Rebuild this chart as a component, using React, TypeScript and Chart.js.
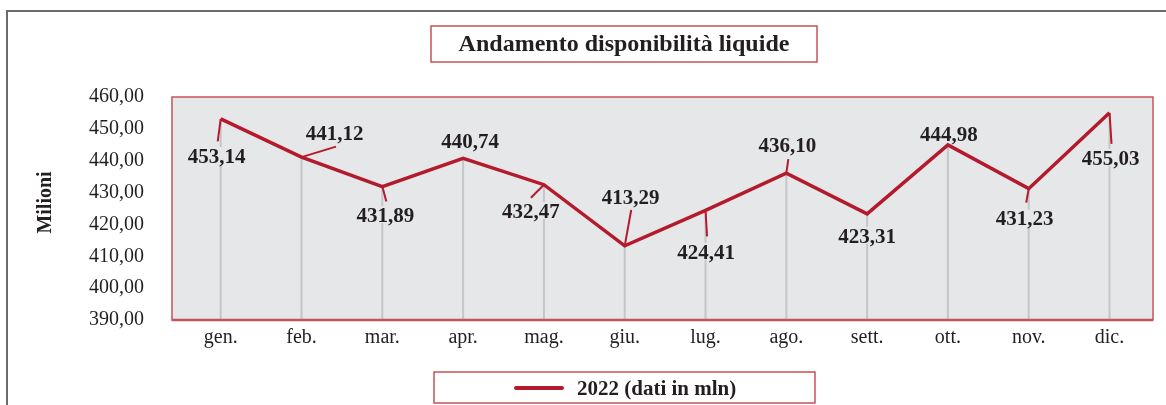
import React, { useEffect, useRef } from "react";
import { Chart, registerables } from "chart.js";

Chart.register(...registerables);

const months = ["gen.", "feb.", "mar.", "apr.", "mag.", "giu.", "lug.", "ago.", "sett.", "ott.", "nov.", "dic."];
const values2022 = [453.14, 441.12, 431.89, 440.74, 432.47, 413.29, 424.41, 436.1, 423.31, 444.98, 431.23, 455.03];
const yTickMin = 390;
const yTickMax = 460;
const yTickStep = 10;
const chartTitle = "Andamento disponibilità liquide";
const seriesLabel = "2022 (dati in mln)";
const yAxisTitle = "Milioni";

// label placement relative to point: [dxLabel, dyLabelCenter, dxLeaderEnd, dyLeaderEnd] (null leader = none)
const labelOffsets: [number, number, number | null, number | null][] = [
  [-4, 36.5, -3, 22.5],
  [33, -24, 34.5, -10.5],
  [3, 28, 4, 15],
  [7, -18, null, null],
  [-13, 26, -13, 13],
  [6, -49, 6.5, -36],
  [0.5, 41, 1.5, 26],
  [1, -28, 2, -14],
  [0, 21.5, null, null],
  [1, -11, null, null],
  [-4, 29.5, -2.5, 14],
  [1, 44.5, 2, 31],
];

const RED = "#b31b2c";
const BORDER_RED = "#c8525b";
const TEXT = "#231f20";
const PLOT_BG = "#e6e7e9";
const FONT = "'Liberation Serif', 'Times New Roman', serif";

const fmt = (v: number) => v.toFixed(2).replace(".", ",");

const decorPlugin = {
  id: "decor",
  beforeDatasetsDraw(chart: any) {
    const ctx = chart.ctx as CanvasRenderingContext2D;
    const ca = chart.chartArea;
    const xs = chart.scales.x;
    const ys = chart.scales.y;
    ctx.save();
    // outer border
    ctx.strokeStyle = "#6b6b6b";
    ctx.lineWidth = 2;
    ctx.strokeRect(7, 11, 1200, 500);
    // plot background
    ctx.fillStyle = PLOT_BG;
    ctx.fillRect(ca.left, ca.top, ca.right - ca.left, ca.bottom - ca.top);
    // drop lines
    ctx.strokeStyle = "#c6c6c8";
    ctx.lineWidth = 2;
    values2022.forEach((v, i) => {
      const x = xs.getPixelForValue(i);
      const y = ys.getPixelForValue(v);
      ctx.beginPath();
      ctx.moveTo(x, y);
      ctx.lineTo(x, ca.bottom);
      ctx.stroke();
    });
    // plot border
    ctx.strokeStyle = BORDER_RED;
    ctx.lineWidth = 1.5;
    ctx.strokeRect(ca.left, ca.top, ca.right - ca.left, ca.bottom - ca.top);
    ctx.lineWidth = 2.5;
    ctx.beginPath();
    ctx.moveTo(ca.left, ca.bottom);
    ctx.lineTo(ca.right, ca.bottom);
    ctx.stroke();
    // title box
    ctx.lineWidth = 1.5;
    ctx.strokeRect(431, 26, 386, 36);
    ctx.fillStyle = TEXT;
    ctx.font = `bold 24px ${FONT}`;
    ctx.textAlign = "center";
    ctx.textBaseline = "alphabetic";
    ctx.fillText(chartTitle, 624, 50.5);
    // legend box
    ctx.strokeStyle = BORDER_RED;
    ctx.strokeRect(434, 372, 381, 31);
    ctx.strokeStyle = RED;
    ctx.lineWidth = 4;
    ctx.lineCap = "round";
    ctx.beginPath();
    ctx.moveTo(516, 388);
    ctx.lineTo(562, 388);
    ctx.stroke();
    ctx.font = `bold 21px ${FONT}`;
    ctx.textAlign = "left";
    ctx.fillText(seriesLabel, 577, 395);
    // y axis title
    ctx.translate(51, 202.5);
    ctx.rotate(-Math.PI / 2);
    ctx.textAlign = "center";
    ctx.font = `bold 20px ${FONT}`;
    ctx.fillText(yAxisTitle, 0, 0);
    ctx.restore();
  },
  afterDatasetsDraw(chart: any) {
    const ctx = chart.ctx as CanvasRenderingContext2D;
    const xs = chart.scales.x;
    const ys = chart.scales.y;
    ctx.save();
    ctx.font = `bold 21px ${FONT}`;
    values2022.forEach((v, i) => {
      const px = xs.getPixelForValue(i);
      const py = ys.getPixelForValue(v);
      const [dx, dy, lx, ly] = labelOffsets[i];
      const cx = px + dx;
      const cy = py + dy;
      const text = fmt(v);
      const w = ctx.measureText(text).width;
      ctx.fillStyle = PLOT_BG;
      ctx.fillRect(cx - w / 2 - 1, cy - 8.5, w + 2, 17);
      if (lx !== null && ly !== null) {
        ctx.strokeStyle = RED;
        ctx.lineWidth = 2;
        ctx.beginPath();
        ctx.moveTo(px, py);
        ctx.lineTo(px + lx, py + ly);
        ctx.stroke();
      }
      ctx.fillStyle = TEXT;
      ctx.textAlign = "center";
      ctx.textBaseline = "alphabetic";
      ctx.fillText(text, cx, cy + 7.2);
    });
    ctx.restore();
  },
};

export default function App() {
  const ref = useRef<HTMLCanvasElement | null>(null);
  useEffect(() => {
    if (!ref.current) return;
    const chart = new Chart(ref.current, {
      type: "line",
      data: {
        datasets: [
          {
            label: seriesLabel,
            data: values2022.map((v, i) => ({ x: i, y: v })),
            borderColor: RED,
            backgroundColor: RED,
            borderWidth: 3.5,
            pointRadius: 0,
            pointHoverRadius: 0,
            tension: 0,
            borderJoinStyle: "miter",
            fill: false,
          },
        ],
      },
      options: {
        animation: false,
        responsive: true,
        maintainAspectRatio: false,
        events: [],
        layout: { padding: { top: 97, right: 13, left: 0, bottom: 0 } },
        plugins: {
          legend: { display: false },
          title: { display: false },
          tooltip: { enabled: false },
        },
        scales: {
          x: {
            type: "linear",
            min: -0.603,
            max: 11.538,
            grid: { display: false, drawTicks: false },
            border: { display: false },
            ticks: {
              autoSkip: false,
              maxRotation: 0,
              padding: 6,
              color: TEXT,
              font: { family: FONT, size: 20 },
              callback: (v: any) => months[v as number] ?? "",
            },
            afterBuildTicks: (s: any) => {
              s.ticks = months.map((_, i) => ({ value: i }));
            },
            afterFit: (s: any) => {
              s.height = 85;
            },
          },
          y: {
            min: yTickMin,
            max: yTickMax,
            grid: { display: false, drawTicks: false },
            border: { display: false },
            ticks: {
              stepSize: yTickStep,
              padding: 28,
              color: TEXT,
              font: { family: FONT, size: 20 },
              callback: (v: any) => fmt(Number(v)),
            },
            afterFit: (s: any) => {
              s.width = 172;
            },
          },
        },
      },
      plugins: [decorPlugin],
    });
    return () => chart.destroy();
  }, []);
  return (
    <div style={{ position: "absolute", left: 0, top: 0, width: 1166, height: 405 }}>
      <canvas ref={ref} />
    </div>
  );
}
